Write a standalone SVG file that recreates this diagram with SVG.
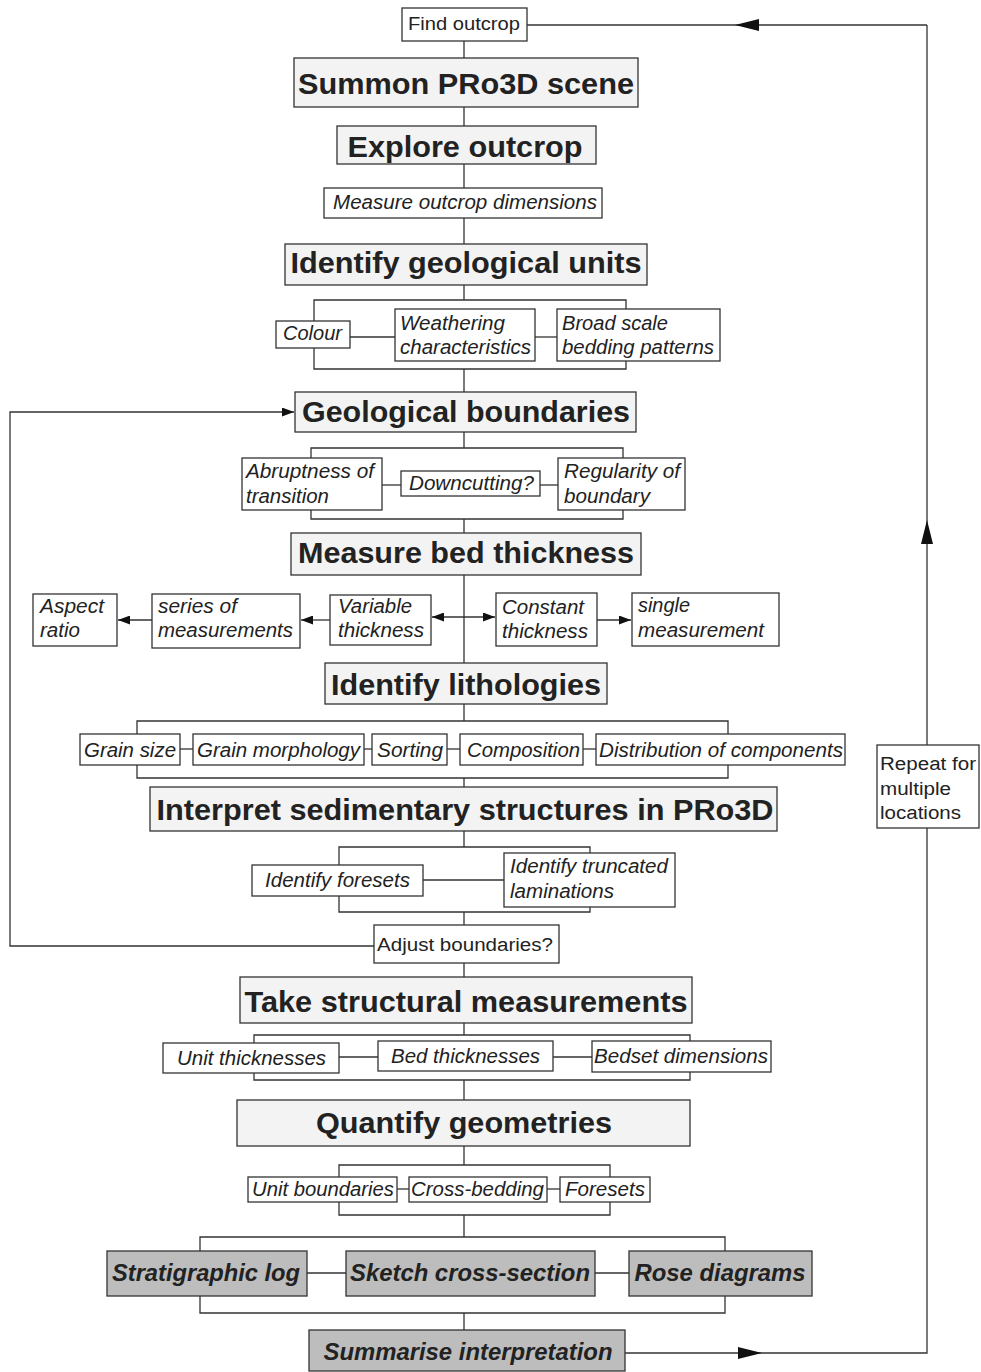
<svg xmlns="http://www.w3.org/2000/svg" width="981" height="1372" viewBox="0 0 981 1372">
<style>
rect{stroke:#333;stroke-width:1.3}
.w{fill:#fff}
.h{fill:#f3f3f3}
.g{fill:#bdbdbd}
text{font-family:"Liberation Sans",Arial,sans-serif;fill:#222}
.hb{font-size:29px;font-weight:bold}
.it{font-size:20px;font-style:italic}
.rg{font-size:18px}
.ob{font-size:24px;font-weight:bold;font-style:italic}
.c{text-anchor:middle}
#conn path,#conn line{stroke:#333;stroke-width:1.3;fill:none}
</style>
<defs>
<marker id="big" viewBox="0 0 24 12" refX="24" refY="6" markerWidth="24" markerHeight="12" markerUnits="userSpaceOnUse" orient="auto"><path d="M0,0L24,6L0,12z" fill="#111"/></marker>
<marker id="sm" viewBox="0 0 12 9" refX="12" refY="4.5" markerWidth="12" markerHeight="9" markerUnits="userSpaceOnUse" orient="auto-start-reverse"><path d="M0,0L12,4.5L0,9z" fill="#111"/></marker>
</defs>
<g id="conn">
<line x1="464" y1="41" x2="464" y2="58"/>
<line x1="464" y1="107" x2="464" y2="126"/>
<line x1="464" y1="164" x2="464" y2="188"/>
<line x1="464" y1="218" x2="464" y2="244"/>
<line x1="464" y1="285" x2="464" y2="300"/>
<path d="M314,300H626V369H314Z"/>
<line x1="350" y1="337" x2="395" y2="337"/>
<line x1="535" y1="337" x2="557" y2="337"/>
<line x1="464" y1="369" x2="464" y2="392"/>
<line x1="464" y1="432" x2="464" y2="448"/>
<path d="M311,448H623V519H311Z"/>
<line x1="382" y1="485" x2="401" y2="485"/>
<line x1="540" y1="485" x2="558" y2="485"/>
<line x1="464" y1="519" x2="464" y2="533"/>
<line x1="464" y1="575" x2="464" y2="663"/>
<line x1="330" y1="620" x2="301" y2="620" marker-end="url(#sm)"/>
<line x1="152" y1="620" x2="118" y2="620" marker-end="url(#sm)"/>
<line x1="432" y1="617" x2="495" y2="617" marker-start="url(#sm)" marker-end="url(#sm)"/>
<line x1="597" y1="620" x2="631" y2="620" marker-end="url(#sm)"/>
<line x1="464" y1="704" x2="464" y2="721"/>
<path d="M137,721H728V778H137Z"/>
<line x1="180" y1="749" x2="193" y2="749"/>
<line x1="364" y1="749" x2="372" y2="749"/>
<line x1="447" y1="749" x2="460" y2="749"/>
<line x1="583" y1="749" x2="596" y2="749"/>
<line x1="464" y1="778" x2="464" y2="787"/>
<line x1="464" y1="831" x2="464" y2="847"/>
<path d="M339,847H590V912H339Z"/>
<line x1="423" y1="880" x2="504" y2="880"/>
<line x1="464" y1="912" x2="464" y2="925"/>
<line x1="464" y1="963" x2="464" y2="977"/>
<path d="M374,946H10V412H294" marker-end="url(#sm)"/>
<line x1="464" y1="1023" x2="464" y2="1035"/>
<path d="M254,1035H690V1080H254Z"/>
<line x1="339" y1="1057" x2="378" y2="1057"/>
<line x1="553" y1="1057" x2="592" y2="1057"/>
<line x1="464" y1="1080" x2="464" y2="1100"/>
<line x1="464" y1="1146" x2="464" y2="1165"/>
<path d="M339,1165H610V1215H339Z"/>
<line x1="397" y1="1189" x2="409" y2="1189"/>
<line x1="547" y1="1189" x2="560" y2="1189"/>
<line x1="464" y1="1215" x2="464" y2="1237"/>
<path d="M200,1237H725V1313H200Z"/>
<line x1="307" y1="1273" x2="346" y2="1273"/>
<line x1="595" y1="1273" x2="629" y2="1273"/>
<line x1="464" y1="1313" x2="464" y2="1330"/>
<line x1="625" y1="1353" x2="762" y2="1353" marker-end="url(#big)"/>
<path d="M762,1353H927V745"/>
<line x1="927" y1="745" x2="927" y2="520" marker-end="url(#big)"/>
<line x1="927" y1="520" x2="927" y2="25"/>
<line x1="927" y1="25" x2="735" y2="25" marker-end="url(#big)"/>
<line x1="735" y1="25" x2="527" y2="25"/>
</g>
<g id="find"><rect class="w" x="402" y="8" width="125" height="33"/><text class="rg c" x="464" y="30" textLength="112" lengthAdjust="spacingAndGlyphs">Find outcrop</text></g>
<g id="summon"><rect class="h" x="294" y="58" width="344" height="49"/><text class="hb c" x="466" y="94" textLength="336" lengthAdjust="spacingAndGlyphs">Summon PRo3D scene</text></g>
<g id="explore"><rect class="h" x="337" y="126" width="259" height="38"/><text class="hb c" x="465" y="157" textLength="235" lengthAdjust="spacingAndGlyphs">Explore outcrop</text></g>
<g id="measure-dims"><rect class="w" x="324" y="188" width="278" height="30"/><text class="it c" x="465" y="209" textLength="264" lengthAdjust="spacingAndGlyphs">Measure outcrop dimensions</text></g>
<g id="units"><rect class="h" x="285" y="244" width="362" height="41"/><text class="hb c" x="466" y="273" textLength="351" lengthAdjust="spacingAndGlyphs">Identify geological units</text></g>
<g id="colour"><rect class="w" x="276" y="321" width="74" height="27"/><text class="it" x="283" y="340" textLength="59" lengthAdjust="spacingAndGlyphs">Colour</text></g>
<g id="weathering"><rect class="w" x="395" y="309" width="140" height="52"/><text class="it" x="400" y="330" textLength="105" lengthAdjust="spacingAndGlyphs">Weathering</text><text class="it" x="400" y="354" textLength="131" lengthAdjust="spacingAndGlyphs">characteristics</text></g>
<g id="broad"><rect class="w" x="557" y="309" width="163" height="52"/><text class="it" x="562" y="330" textLength="106" lengthAdjust="spacingAndGlyphs">Broad scale</text><text class="it" x="562" y="354" textLength="152" lengthAdjust="spacingAndGlyphs">bedding patterns</text></g>
<g id="boundaries"><rect class="h" x="295" y="392" width="341" height="40"/><text class="hb c" x="466" y="422" textLength="328" lengthAdjust="spacingAndGlyphs">Geological boundaries</text></g>
<g id="abrupt"><rect class="w" x="242" y="458" width="140" height="52"/><text class="it" x="246" y="478" textLength="128" lengthAdjust="spacingAndGlyphs">Abruptness of</text><text class="it" x="246" y="503" textLength="83" lengthAdjust="spacingAndGlyphs">transition</text></g>
<g id="downcut"><rect class="w" x="401" y="471" width="139" height="25"/><text class="it" x="409" y="490" textLength="125" lengthAdjust="spacingAndGlyphs">Downcutting?</text></g>
<g id="regular"><rect class="w" x="558" y="458" width="127" height="52"/><text class="it" x="564" y="478" textLength="116" lengthAdjust="spacingAndGlyphs">Regularity of</text><text class="it" x="564" y="503" textLength="86" lengthAdjust="spacingAndGlyphs">boundary</text></g>
<g id="bedthick"><rect class="h" x="291" y="533" width="350" height="42"/><text class="hb c" x="466" y="563" textLength="336" lengthAdjust="spacingAndGlyphs">Measure bed thickness</text></g>
<g id="aspect"><rect class="w" x="33" y="594" width="84" height="52"/><text class="it" x="40" y="613" textLength="64" lengthAdjust="spacingAndGlyphs">Aspect</text><text class="it" x="40" y="637" textLength="40" lengthAdjust="spacingAndGlyphs">ratio</text></g>
<g id="series"><rect class="w" x="152" y="594" width="148" height="54"/><text class="it" x="158" y="613" textLength="79" lengthAdjust="spacingAndGlyphs">series of</text><text class="it" x="158" y="637" textLength="135" lengthAdjust="spacingAndGlyphs">measurements</text></g>
<g id="variable"><rect class="w" x="330" y="595" width="101" height="50"/><text class="it" x="338" y="613" textLength="74" lengthAdjust="spacingAndGlyphs">Variable</text><text class="it" x="338" y="637" textLength="86" lengthAdjust="spacingAndGlyphs">thickness</text></g>
<g id="constant"><rect class="w" x="496" y="593" width="101" height="53"/><text class="it" x="502" y="614" textLength="82" lengthAdjust="spacingAndGlyphs">Constant</text><text class="it" x="502" y="638" textLength="86" lengthAdjust="spacingAndGlyphs">thickness</text></g>
<g id="single"><rect class="w" x="632" y="593" width="147" height="53"/><text class="it" x="638" y="612" textLength="52" lengthAdjust="spacingAndGlyphs">single</text><text class="it" x="638" y="637" textLength="126" lengthAdjust="spacingAndGlyphs">measurement</text></g>
<g id="lithologies"><rect class="h" x="325" y="663" width="282" height="41"/><text class="hb c" x="466" y="695" textLength="270" lengthAdjust="spacingAndGlyphs">Identify lithologies</text></g>
<g id="grainsize"><rect class="w" x="80" y="734" width="100" height="31"/><text class="it" x="84" y="757" textLength="92" lengthAdjust="spacingAndGlyphs">Grain size</text></g>
<g id="grainmorph"><rect class="w" x="193" y="734" width="171" height="31"/><text class="it" x="197" y="757" textLength="163" lengthAdjust="spacingAndGlyphs">Grain morphology</text></g>
<g id="sorting"><rect class="w" x="372" y="734" width="75" height="31"/><text class="it" x="377" y="757" textLength="66" lengthAdjust="spacingAndGlyphs">Sorting</text></g>
<g id="composition"><rect class="w" x="460" y="734" width="123" height="31"/><text class="it" x="467" y="757" textLength="113" lengthAdjust="spacingAndGlyphs">Composition</text></g>
<g id="distribution"><rect class="w" x="596" y="734" width="249" height="31"/><text class="it" x="599" y="757" textLength="244" lengthAdjust="spacingAndGlyphs">Distribution of components</text></g>
<g id="interpret"><rect class="h" x="150" y="787" width="627" height="44"/><text class="hb c" x="465" y="820" textLength="617" lengthAdjust="spacingAndGlyphs">Interpret sedimentary structures in PRo3D</text></g>
<g id="foresets"><rect class="w" x="252" y="865" width="171" height="31"/><text class="it" x="265" y="887" textLength="145" lengthAdjust="spacingAndGlyphs">Identify foresets</text></g>
<g id="truncated"><rect class="w" x="504" y="853" width="171" height="54"/><text class="it" x="510" y="873" textLength="158" lengthAdjust="spacingAndGlyphs">Identify truncated</text><text class="it" x="510" y="898" textLength="104" lengthAdjust="spacingAndGlyphs">laminations</text></g>
<g id="adjust"><rect class="w" x="374" y="925" width="185" height="38"/><text class="rg" x="377" y="951" textLength="176" lengthAdjust="spacingAndGlyphs">Adjust boundaries?</text></g>
<g id="structural"><rect class="h" x="240" y="977" width="452" height="46"/><text class="hb c" x="466" y="1012" textLength="443" lengthAdjust="spacingAndGlyphs">Take structural measurements</text></g>
<g id="unitthick"><rect class="w" x="163" y="1043" width="176" height="30"/><text class="it" x="177" y="1065" textLength="149" lengthAdjust="spacingAndGlyphs">Unit thicknesses</text></g>
<g id="bedthicks"><rect class="w" x="378" y="1041" width="175" height="30"/><text class="it" x="391" y="1063" textLength="149" lengthAdjust="spacingAndGlyphs">Bed thicknesses</text></g>
<g id="bedset"><rect class="w" x="592" y="1041" width="179" height="31"/><text class="it" x="594" y="1063" textLength="174" lengthAdjust="spacingAndGlyphs">Bedset dimensions</text></g>
<g id="quantify"><rect class="h" x="237" y="1100" width="453" height="46"/><text class="hb c" x="464" y="1133" textLength="296" lengthAdjust="spacingAndGlyphs">Quantify geometries</text></g>
<g id="unitbound"><rect class="w" x="248" y="1177" width="149" height="25"/><text class="it" x="252" y="1196" textLength="142" lengthAdjust="spacingAndGlyphs">Unit boundaries</text></g>
<g id="crossbed"><rect class="w" x="409" y="1177" width="138" height="25"/><text class="it" x="411" y="1196" textLength="133" lengthAdjust="spacingAndGlyphs">Cross-bedding</text></g>
<g id="foresets2"><rect class="w" x="560" y="1177" width="90" height="25"/><text class="it" x="565" y="1196" textLength="80" lengthAdjust="spacingAndGlyphs">Foresets</text></g>
<g id="stratlog"><rect class="g" x="107" y="1251" width="200" height="45"/><text class="ob c" x="206" y="1281" textLength="188" lengthAdjust="spacingAndGlyphs">Stratigraphic log</text></g>
<g id="sketch"><rect class="g" x="346" y="1251" width="249" height="45"/><text class="ob c" x="470" y="1281" textLength="240" lengthAdjust="spacingAndGlyphs">Sketch cross-section</text></g>
<g id="rose"><rect class="g" x="629" y="1251" width="183" height="45"/><text class="ob c" x="720" y="1281" textLength="171" lengthAdjust="spacingAndGlyphs">Rose diagrams</text></g>
<g id="summarise"><rect class="g" x="309" y="1330" width="316" height="41"/><text class="ob c" x="468" y="1360" textLength="289" lengthAdjust="spacingAndGlyphs">Summarise interpretation</text></g>
<g id="repeat"><rect class="w" x="877" y="745" width="102" height="83"/><text class="rg" x="880" y="770" textLength="96" lengthAdjust="spacingAndGlyphs">Repeat for</text><text class="rg" x="880" y="795" textLength="71" lengthAdjust="spacingAndGlyphs">multiple</text><text class="rg" x="880" y="819" textLength="81" lengthAdjust="spacingAndGlyphs">locations</text></g>
</svg>
